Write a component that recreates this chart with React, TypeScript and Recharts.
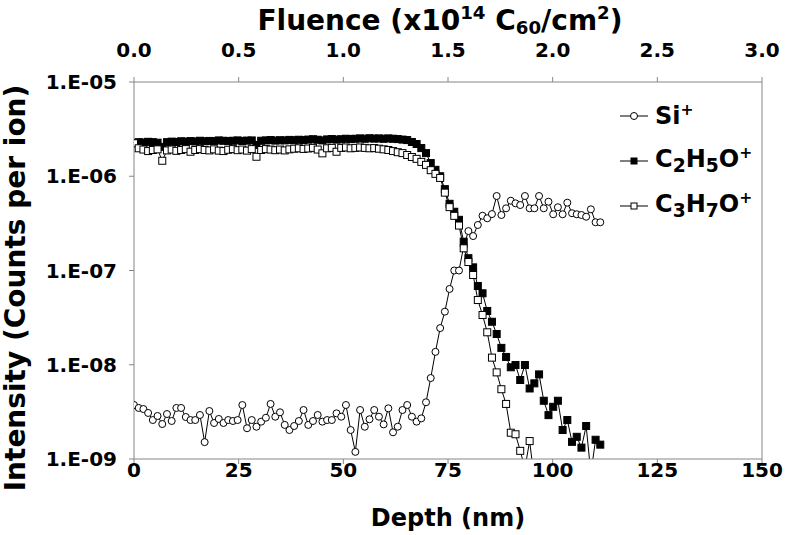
import { LineChart, Line, XAxis, YAxis, ReferenceLine } from "recharts"

// depth between successive sputter cycles (nm)
const DEPTH_STEP = 1.125
// 150 nm of depth corresponds to a fluence of 3.0 x10^14 C60/cm2
const NM_PER_FLUENCE = 50

const si = [
  3.74e-9, 3.48e-9, 3.39e-9, 3.08e-9, 2.59e-9, 2.86e-9, 2.35e-9, 3.0e-9, 2.53e-9, 3.48e-9,
  3.48e-9, 2.79e-9, 2.59e-9, 2.59e-9, 2.93e-9, 1.51e-9, 3.23e-9, 2.41e-9, 2.66e-9, 2.41e-9,
  2.59e-9, 2.53e-9, 2.59e-9, 3.74e-9, 2.12e-9, 2.59e-9, 2.2e-9, 2.49e-9, 2.74e-9, 3.84e-9,
  2.81e-9, 3.13e-9, 2.3e-9, 2.03e-9, 2.24e-9, 2.53e-9, 3.31e-9, 2.3e-9, 2.53e-9, 2.93e-9,
  2.49e-9, 2.59e-9, 2.59e-9, 3.05e-9, 2.81e-9, 3.74e-9, 2.03e-9, 1.19e-9, 3.31e-9, 2.2e-9,
  2.64e-9, 3.31e-9, 2.81e-9, 2.33e-9, 3.45e-9, 1.92e-9, 2.2e-9, 3.31e-9, 3.74e-9, 2.81e-9,
  2.49e-9, 2.7e-9, 4.0e-9, 7.23e-9, 1.37e-8, 2.45e-8, 3.66e-8, 6.37e-8, 1.0e-7, 1.0e-7,
  1.8e-7, 2.62e-7, 2.32e-7, 3.04e-7, 3.81e-7, 3.58e-7, 3.97e-7, 6.17e-7, 3.88e-7, 4.57e-7,
  5.5e-7, 5.16e-7, 4.95e-7, 6.17e-7, 4.57e-7, 4.57e-7, 6.17e-7, 4.57e-7, 5.37e-7, 3.95e-7,
  4.69e-7, 3.95e-7, 5.24e-7, 4.05e-7, 3.95e-7, 3.88e-7, 3.72e-7, 4.46e-7, 3.25e-7, 3.25e-7,
]

const c2h5o = [
  2.25e-6, 2.3e-6, 2.28e-6, 2.32e-6, 2.3e-6, 2.27e-6, 2.05e-6, 2.3e-6, 2.33e-6, 2.31e-6,
  2.35e-6, 2.33e-6, 2.36e-6, 2.34e-6, 2.38e-6, 2.35e-6, 2.37e-6, 2.36e-6, 2.4e-6, 2.38e-6,
  2.36e-6, 2.38e-6, 2.4e-6, 2.37e-6, 2.39e-6, 2.4e-6, 2.15e-6, 2.38e-6, 2.4e-6, 2.42e-6,
  2.39e-6, 2.41e-6, 2.4e-6, 2.43e-6, 2.41e-6, 2.44e-6, 2.42e-6, 2.45e-6, 2.47e-6, 2.44e-6,
  2.4e-6, 2.46e-6, 2.48e-6, 2.45e-6, 2.47e-6, 2.5e-6, 2.48e-6, 2.5e-6, 2.52e-6, 2.5e-6,
  2.53e-6, 2.51e-6, 2.52e-6, 2.5e-6, 2.52e-6, 2.5e-6, 2.48e-6, 2.45e-6, 2.42e-6, 2.31e-6,
  2.2e-6, 1.99e-6, 1.76e-6, 1.38e-6, 1.17e-6, 1.0e-6, 7.3e-7, 5.1e-7, 4.2e-7, 3.45e-7,
  2.02e-7, 1.35e-7, 1.08e-7, 6.85e-8, 5.73e-8, 3.72e-8, 2.86e-8, 2.12e-8, 1.51e-8, 1.21e-8,
  9.4e-9, 9.93e-9, 6.89e-9, 9.93e-9, 5.6e-9, 6.35e-9, 7.9e-9, 4.15e-9, 2.92e-9, 3.58e-9,
  4.15e-9, 2.03e-9, 2.59e-9, 1.52e-9, 1.72e-9, 1.32e-9, 2.24e-9, 7.0e-10, 1.6e-9, 1.42e-9,
]

const c3h7o = [
  2.24e-6, 1.98e-6, 1.92e-6, 1.85e-6, 1.9e-6, 1.93e-6, 1.46e-6, 1.88e-6, 1.92e-6, 1.86e-6,
  1.9e-6, 1.94e-6, 1.82e-6, 1.9e-6, 1.94e-6, 1.9e-6, 1.88e-6, 1.93e-6, 1.87e-6, 1.85e-6,
  1.91e-6, 1.94e-6, 1.89e-6, 1.92e-6, 1.87e-6, 1.94e-6, 1.61e-6, 1.9e-6, 1.94e-6, 1.92e-6,
  1.89e-6, 1.92e-6, 1.88e-6, 1.93e-6, 1.96e-6, 1.98e-6, 1.95e-6, 1.97e-6, 2.0e-6, 1.92e-6,
  1.75e-6, 1.98e-6, 2.0e-6, 1.82e-6, 2.0e-6, 2.02e-6, 1.98e-6, 2.0e-6, 2.02e-6, 2.0e-6,
  1.98e-6, 1.99e-6, 1.96e-6, 1.93e-6, 1.9e-6, 1.85e-6, 1.8e-6, 1.76e-6, 1.68e-6, 1.6e-6,
  1.53e-6, 1.42e-6, 1.32e-6, 1.16e-6, 1.06e-6, 9.6e-7, 6.7e-7, 4.7e-7, 3.8e-7, 3.0e-7,
  1.72e-7, 1.23e-7, 8.96e-8, 4.86e-8, 3.37e-8, 2.21e-8, 1.19e-8, 8.3e-9, 5.5e-9, 3.84e-9,
  1.9e-9, 1.83e-9, 1.22e-9, 8.0e-10, 1.55e-9, 6.0e-10, null, null, null, null,
  null, null, null, null, null, null, null, null, null, null,
]

const depthTicks = [0, 25, 50, 75, 100, 125, 150]
const intensityTicks = [1e-9, 1e-8, 1e-7, 1e-6, 1e-5]

const data = si.map((v, i) => ({
  depth: i * DEPTH_STEP,
  si: v,
  c2h5o: c2h5o[i],
  c3h7o: c3h7o[i],
}))

const FONT = "'DejaVu Sans', Verdana, sans-serif"
const AXIS = "#868686"
const tickStyle = { fill: "#000", fontSize: 20, fontWeight: "bold", fontFamily: FONT }

const expLabel = (v: number) => {
  const e = Math.round(-Math.log10(v))
  return `1.E-${String(e).padStart(2, "0")}`
}

function CircleDot(props: any) {
  const { cx, cy, index } = props
  if (cx == null || cy == null) return <g key={`s-${index}`} />
  return <circle key={`s-${index}`} cx={cx} cy={cy} r={3.5} fill="#fff" stroke="#000" strokeWidth={1} />
}

const squareDot = (fill: string, tag: string) => (props: any) => {
  const { cx, cy, index } = props
  if (cx == null || cy == null) return <g key={`${tag}-${index}`} />
  return (
    <rect key={`${tag}-${index}`} x={cx - 3.5} y={cy - 3.5} width={7} height={7} fill={fill} stroke="#000" strokeWidth={1} />
  )
}

const sub = { fontSize: "0.65em", verticalAlign: "-0.25em" } as const
const sup = { fontSize: "0.65em", verticalAlign: "0.6em" } as const
const legSub = { fontSize: "0.78em", verticalAlign: "-0.25em" } as const

function LegendRow({ top, marker, children }: { top: number; marker: React.ReactNode; children: React.ReactNode }) {
  return (
    <div style={{ position: "absolute", left: 619, top: top - 16, height: 32, display: "flex", alignItems: "center" }}>
      <svg width={30} height={12}>
        <line x1={1} y1={6} x2={29} y2={6} stroke="#000" strokeWidth={1} />
        {marker}
      </svg>
      <span style={{ marginLeft: 6, fontSize: 24, fontWeight: "bold", fontFamily: FONT, lineHeight: 1 }}>{children}</span>
    </div>
  )
}

export default function App() {
  return (
    <div style={{ position: "absolute", left: 0, top: 0, width: 786, height: 535, background: "#fff", fontFamily: FONT }}>
      <LineChart width={786} height={535} data={data} margin={{ top: 52, right: 24, bottom: 36, left: 34 }}>
        <XAxis
          dataKey="depth"
          type="number"
          domain={[0, 150]}
          ticks={depthTicks}
          allowDataOverflow
          height={40}
          tick={tickStyle}
          tickSize={5}
          tickMargin={-1}
          axisLine={{ stroke: AXIS }}
          tickLine={{ stroke: AXIS }}
        />
        <XAxis
          xAxisId="fluence"
          dataKey="depth"
          orientation="top"
          type="number"
          domain={[0, 150]}
          ticks={depthTicks}
          allowDataOverflow
          height={30}
          tick={tickStyle}
          tickFormatter={(v: number) => (v / NM_PER_FLUENCE).toFixed(1)}
          tickSize={5}
          tickMargin={20}
          axisLine={{ stroke: AXIS }}
          tickLine={{ stroke: AXIS }}
        />
        <YAxis
          scale="log"
          domain={[1e-9, 1e-5]}
          ticks={intensityTicks}
          allowDataOverflow
          width={100}
          tick={tickStyle}
          tickFormatter={expLabel}
          tickSize={5}
          tickMargin={12}
          axisLine={{ stroke: AXIS }}
          tickLine={{ stroke: AXIS }}
        />
        <ReferenceLine x={150} stroke={AXIS} />
        <Line dataKey="si" stroke="#000" strokeWidth={1} dot={CircleDot} isAnimationActive={false} />
        <Line dataKey="c2h5o" stroke="#000" strokeWidth={1} dot={squareDot("#000", "f")} isAnimationActive={false} />
        <Line dataKey="c3h7o" stroke="#000" strokeWidth={1} dot={squareDot("#fff", "o")} isAnimationActive={false} />
      </LineChart>

      <div style={{ position: "absolute", left: 0, width: 880, top: 2, textAlign: "center", fontSize: 28, fontWeight: "bold", lineHeight: 1.2 }}>
        Fluence (x10<span style={sup}>14</span> C<span style={sub}>60</span>/cm<span style={sup}>2</span>)
      </div>
      <div style={{ position: "absolute", left: 0, width: 896, top: 504, textAlign: "center", fontSize: 24, fontWeight: "bold", lineHeight: 1.2 }}>
        Depth (nm)
      </div>
      <div
        style={{
          position: "absolute",
          left: 16,
          top: 288,
          transform: "translate(-50%, -50%) rotate(-90deg)",
          whiteSpace: "nowrap",
          fontSize: 28,
          fontWeight: "bold",
          lineHeight: 1.1,
        }}
      >
        Intensity (Counts per ion)
      </div>

      <LegendRow top={116} marker={<circle cx={15} cy={6} r={3.5} fill="#fff" stroke="#000" />}>
        Si<span style={sup}>+</span>
      </LegendRow>
      <LegendRow top={161} marker={<rect x={12} y={3} width={6} height={6} fill="#000" stroke="#000" />}>
        C<span style={legSub}>2</span>H<span style={legSub}>5</span>O<span style={sup}>+</span>
      </LegendRow>
      <LegendRow top={206} marker={<rect x={12} y={3} width={6} height={6} fill="#fff" stroke="#000" />}>
        C<span style={legSub}>3</span>H<span style={legSub}>7</span>O<span style={sup}>+</span>
      </LegendRow>
    </div>
  )
}
